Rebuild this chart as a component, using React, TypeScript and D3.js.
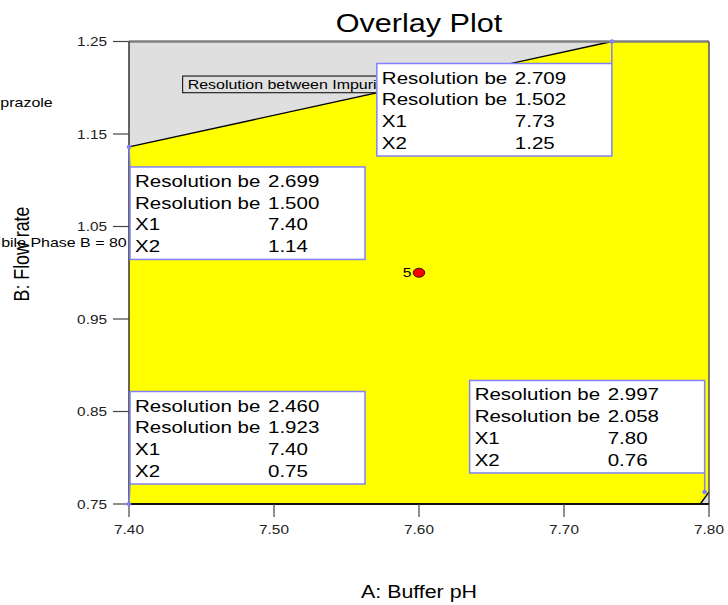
import React from 'react';
import * as d3 from 'd3';

// axis ticks
const xTicks = [7.4, 7.5, 7.6, 7.7, 7.8];
const yTicks = [0.75, 0.85, 0.95, 1.05, 1.15, 1.25];

// edges of the grey (failing) regions
const upperEdge = [[7.4, 1.136], [7.733, 1.25]];
const cornerEdge = [[7.794, 0.75], [7.8, 0.763]];

// flag points
const flagX = [7.733, 7.4, 7.4, 7.797];
const flagY = [1.25, 1.136, 0.75, 0.763];
const flagRes1 = [2.709, 2.699, 2.46, 2.997];
const flagRes2 = [1.502, 1.5, 1.923, 2.058];

// design point
const designPt = { x: 7.6, y: 1.0, label: '5' };

const W = 728;
const H = 605;
const m = { left: 129, right: 709, top: 41.5, bottom: 504 };
const SX = 1.2; // picture is stretched horizontally
const FONT = '"Liberation Sans", Arial, sans-serif';

// where each flag box sits relative to its point (px)
const boxW = 235;
const boxH = 92.5;
const boxOffset = [
  { dx: -boxW, dy: 22 },
  { dx: 1, dy: 20 },
  { dx: 1, dy: -20 - boxH },
  { dx: -boxW, dy: -19 - boxH },
];

const T = ({ x, y, size, anchor = 'start', rotate = false, children, fill = '#000' }: any) => (
  <text
    transform={`translate(${x},${y}) scale(${SX},1)${rotate ? ' rotate(-90)' : ''}`}
    fontSize={size}
    textAnchor={anchor}
    fontFamily={FONT}
    fill={fill}
  >
    {children}
  </text>
);

export default function App() {
  const x = d3.scaleLinear().domain([7.4, 7.8]).range([m.left, m.right]);
  const y = d3.scaleLinear().domain([0.75, 1.25]).range([m.bottom, m.top]);
  const [x0, x1] = x.domain();
  const [y0, y1] = y.domain();

  const line = d3.line<number[]>().x(d => x(d[0])).y(d => y(d[1]));
  const upperPoly = [...upperEdge, [x0, y1]];
  const cornerPoly = [...cornerEdge, [x1, y0]];

  const cx = (m.left + m.right) / 2;

  return (
    <svg width={W} height={H} style={{ position: 'absolute', left: 0, top: 0, background: '#fff' }}>
      {/* plot area */}
      <rect x={m.left} y={m.top} width={m.right - m.left} height={m.bottom - m.top} fill="#ffff00" />
      <path d={line(upperPoly as any) + 'Z'} fill="#dfdfdf" />
      <path d={line(cornerPoly as any) + 'Z'} fill="#dfdfdf" />
      <path d={line(upperEdge as any) || ''} stroke="#000" strokeWidth={1.3} fill="none" />
      <path d={line(cornerEdge as any) || ''} stroke="#000" strokeWidth={1.3} fill="none" />

      {/* frame */}
      <line x1={m.left} x2={m.right} y1={m.top} y2={m.top} stroke="#808080" strokeWidth={2.5} />
      <line x1={m.right} x2={m.right} y1={m.top} y2={m.bottom} stroke="#555" strokeWidth={1.5} />
      <line x1={m.left} x2={m.right} y1={m.bottom} y2={m.bottom} stroke="#111" strokeWidth={2} />
      <line x1={m.left} x2={m.left} y1={m.top} y2={m.bottom} stroke="#333" strokeWidth={1.5} />

      {/* contour label (partly hidden behind a flag) */}
      <g>
        <rect x={x(7.437)} y={y(1.2037) - 8.3} width={230} height={16.7} fill="#dfdfdf" stroke="#000" strokeWidth={1} />
        <T x={x(7.437) + 5} y={y(1.2037) + 5} size={13.3}>Resolution between Impurity</T>
      </g>

      {/* axes ticks */}
      {yTicks.map(t => (
        <g key={'y' + t}>
          <line x1={m.left - 16} x2={m.left} y1={y(t)} y2={y(t)} stroke="#444" strokeWidth={1.2} />
          <T x={m.left - 22} y={y(t) + 4.5} size={12.8} anchor="end" fill="#222">{t.toFixed(2)}</T>
        </g>
      ))}
      {xTicks.map(t => (
        <g key={'x' + t}>
          <line x1={x(t)} x2={x(t)} y1={m.bottom} y2={m.bottom + 13} stroke="#444" strokeWidth={1.2} />
          <T x={x(t)} y={534} size={12.8} anchor="middle" fill="#222">{t.toFixed(2)}</T>
        </g>
      ))}

      {/* side texts from clipped legend */}
      <T x={52.7} y={107} size={13.3} anchor="end">prazole</T>
      <T x={126.7} y={247.3} size={13.3} anchor="end">bile Phase B = 80</T>

      {/* titles */}
      <T x={cx} y={32} size={25.5} anchor="middle">Overlay Plot</T>
      <T x={cx} y={597.5} size={17.8} anchor="middle">A: Buffer pH</T>
      <T x={29} y={254} size={17.8} anchor="middle" rotate>B: Flow rate</T>

      {/* design point */}
      <ellipse cx={x(designPt.x)} cy={y(designPt.y)} rx={5.8} ry={4.5} fill="#ff0000" stroke="#000" strokeWidth={0.8} />
      <T x={x(designPt.x) - 7.5} y={y(designPt.y) + 4.5} size={13} anchor="end">{designPt.label}</T>

      {/* flags */}
      {flagX.map((fx, i) => {
        const px = x(fx);
        const py = y(flagY[i]);
        const left = px + boxOffset[i].dx;
        const top = py + boxOffset[i].dy;
        const ex = Math.max(left, Math.min(left + boxW, px));
        const ey = py < top ? top : top + boxH;
        const rows = [
          ['Resolution be', flagRes1[i].toFixed(3)],
          ['Resolution be', flagRes2[i].toFixed(3)],
          ['X1', fx.toFixed(2)],
          ['X2', flagY[i].toFixed(2)],
        ];
        return (
          <g key={'f' + i}>
            <line x1={px} y1={py} x2={ex} y2={ey} stroke="#8080ff" strokeWidth={1.5} />
            <rect x={left} y={top} width={boxW} height={boxH} fill="#fff" stroke="#8080ff" strokeWidth={1.5} />
            {rows.map((r, j) => (
              <g key={j}>
                <T x={left + 5} y={top + 20 + j * 21.7} size={17.1}>{r[0]}</T>
                <T x={left + 138} y={top + 20 + j * 21.7} size={17.1}>{r[1]}</T>
              </g>
            ))}
            <circle cx={px} cy={py} r={2.3} fill="#8080ff" />
          </g>
        );
      })}
    </svg>
  );
}
